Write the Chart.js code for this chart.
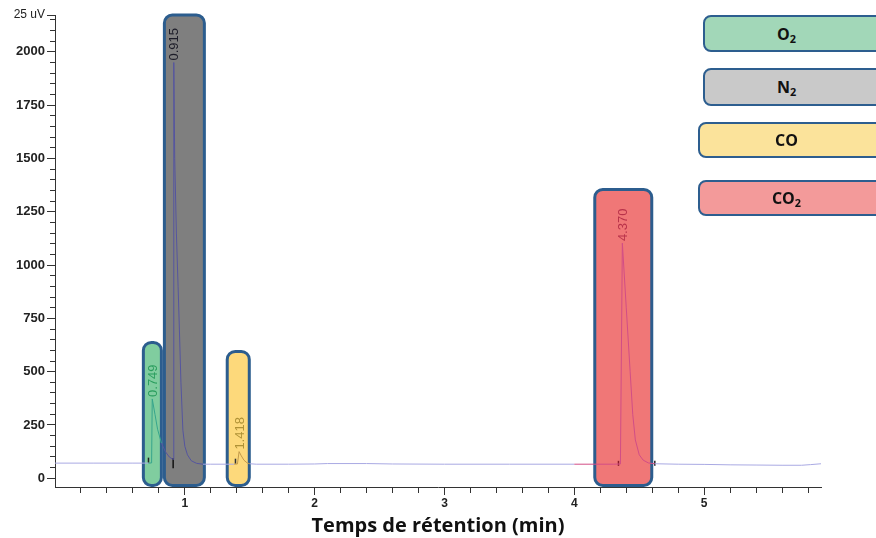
<!DOCTYPE html>
<html>
<head>
<meta charset="utf-8">
<script src="https://cdn.jsdelivr.net/npm/chart.js@4.4.1/dist/chart.umd.min.js"></script>
<style>
html,body{margin:0;padding:0;background:#fff;overflow:hidden;}
#wrap{position:relative;width:876px;height:538px;overflow:hidden;background:#fff;}
#c{position:absolute;left:0;top:0;}
.lg{position:absolute;width:240px;border:2.5px solid #2d5e8f;border-radius:8px;box-sizing:border-box;}
.lg span{position:absolute;top:50%;transform:translate(-50%,-52%);font:bold 16px 'Open Sans',sans-serif;color:#111;white-space:nowrap;}
.lg sub{font-size:0.68em;vertical-align:-0.3em;line-height:0;}
</style>
</head>
<body>
<div id="wrap">
<canvas id="c" width="876" height="538"></canvas>
</div>
<script>
// ---------- data ----------
const gasLabels = ['O2', 'N2', 'CO', 'CO2'];
const peakTimes = [0.749, 0.915, 1.418, 4.370];
const peakHeights = [372, 1950, 125, 1103];

// retention windows highlighted by boxes (data units)
const boxXMin = [0.669, 0.831, 1.315, 4.146];
const boxXMax = [0.831, 1.162, 1.508, 4.608];
const boxYMin = [-41, -41, -41, -41];
const boxYMax = [644, 2180, 602, 1362];

// chromatogram trace
const traceTimes = [0, 0.3, 0.6, 0.72, 0.744, 0.749, 0.77, 0.79, 0.82, 0.85, 0.88, 0.905, 0.912,
  0.915, 0.922, 0.935, 0.948, 0.958, 0.97, 0.985, 1.0, 1.02, 1.05, 1.09, 1.14, 1.2,
  1.38, 1.405, 1.418, 1.435, 1.455, 1.48, 1.5, 1.55, 1.8, 2.0, 2.1, 2.4, 2.6, 3.0, 3.5, 4.0, 4.3,
  4.355, 4.37, 4.40, 4.43, 4.45, 4.47, 4.5, 4.53, 4.57, 4.62, 4.8, 5.0, 5.2, 5.4, 5.6, 5.75, 5.82, 5.9];
const traceSignal = [71, 71, 71, 71, 72, 372, 300, 230, 165, 125, 100, 90, 88,
  1950, 1500, 1150, 900, 700, 450, 225, 150, 110, 82, 70, 66, 66,
  66, 67, 125, 105, 85, 72, 68, 66, 66, 67, 69, 69, 67, 66, 66, 66, 66,
  67, 1103, 800, 500, 300, 180, 110, 85, 72, 68, 66, 65, 63, 62, 61, 61, 64, 68];

// integration markers
const markerTimes = [0.72, 0.91, 1.39, 4.34, 4.62];
const markerSignal = [85, 70, 80, 70, 70];

// axis ticks
const yTickLabels = ['0', '250', '500', '750', '1000', '1250', '1500', '1750', '2000'];
const yUnitLabel = '25 uV';
const xTickLabels = ['1', '2', '3', '4', '5'];
const xTitle = 'Temps de rétention (min)';

// ---------- styles ----------
const boxFill = ['#80cd9f', '#7f7f7f', '#fdd97b', '#f07777'];
const legendFill = ['#a2d7b8', '#c9c9c9', '#fbe39b', '#f39a9a'];
const traceColors = ['#36a58c', '#55559f', '#c49a4a', '#d24d86'];
const labelColors = ['#2a9d5e', '#1c1c28', '#b09236', '#b8324a'];
const baseColor = '#a9a9e3';
const boxBorder = '#2c5d8e';
const Y_MIN = -41, Y_MAX = 2173, X_MIN = 0, X_MAX = 5.9;

// legend boxes (HTML)
const legendPos = [[703, 15, 37], [703, 68, 38], [698, 122, 36], [698, 180, 36]];
const wrap = document.getElementById('wrap');
gasLabels.forEach((g, i) => {
  const d = document.createElement('div');
  d.className = 'lg';
  d.style.left = legendPos[i][0] + 'px';
  d.style.top = legendPos[i][1] + 'px';
  d.style.height = legendPos[i][2] + 'px';
  d.style.background = legendFill[i];
  const s = document.createElement('span');
  s.style.left = (787 - legendPos[i][0] - 2.5) + 'px';
  s.innerHTML = g.replace(/(\d)/g, '<sub>$1</sub>');
  d.appendChild(s);
  wrap.appendChild(d);
});

function boxIndexAt(t) {
  for (let i = 0; i < boxXMin.length; i++) if (t >= boxXMin[i] && t <= boxXMax[i]) return i;
  return -1;
}

const yTickValues = [];
for (let v = 0; v <= 2150; v += 50) yTickValues.push(v);
yTickValues.push(Y_MAX);
const xTickValues = [];
for (let k = 1; k <= 29; k++) xTickValues.push(Math.round(k * 0.2 * 10) / 10);

const isMajorY = v => v === Y_MAX || (v % 250 === 0);
const isMajorX = v => Math.abs(v - Math.round(v)) < 1e-6;

const boxPlugin = {
  id: 'boxes',
  beforeDatasetsDraw(chart) {
    const { ctx, scales: { x, y } } = chart;
    ctx.save();
    for (let i = 0; i < boxXMin.length; i++) {
      const l = x.getPixelForValue(boxXMin[i]), r = x.getPixelForValue(boxXMax[i]);
      const t = y.getPixelForValue(boxYMax[i]), b = y.getPixelForValue(boxYMin[i]);
      ctx.beginPath();
      ctx.roundRect(l + 1.5, t + 1.5, r - l - 3, b - t - 3, 8);
      ctx.fillStyle = boxFill[i];
      ctx.fill();
      ctx.lineWidth = 3;
      ctx.strokeStyle = boxBorder;
      ctx.stroke();
    }
    ctx.restore();
  },
  afterDatasetsDraw(chart) {
    const { ctx, scales: { x, y } } = chart;
    ctx.save();
    ctx.font = '13px "Liberation Sans", Arial, sans-serif';
    ctx.textAlign = 'left';
    ctx.textBaseline = 'middle';
    for (let i = 0; i < peakTimes.length; i++) {
      const px = x.getPixelForValue(peakTimes[i]) + 1;
      const py = y.getPixelForValue(peakHeights[i]) - 2;
      ctx.save();
      ctx.translate(px, py);
      ctx.rotate(-Math.PI / 2);
      ctx.fillStyle = labelColors[i];
      ctx.fillText(peakTimes[i].toFixed(3), 0, 0);
      ctx.restore();
    }
    ctx.restore();
  }
};

new Chart(document.getElementById('c'), {
  type: 'line',
  data: {
    datasets: [
      {
        data: traceTimes.map((t, i) => ({ x: t, y: traceSignal[i] })),
        borderColor: baseColor,
        borderWidth: 1,
        pointRadius: 0,
        tension: 0,
        segment: {
          borderColor: c => {
            const i = boxIndexAt((c.p0.parsed.x + c.p1.parsed.x) / 2);
            return i < 0 ? baseColor : traceColors[i];
          }
        }
      },
      {
        data: markerTimes.map((t, i) => ({ x: t, y: markerSignal[i] })),
        showLine: false,
        pointStyle: 'line',
        rotation: 90,
        radius: [2.5, 5, 2.5, 2.5, 2.5],
        borderColor: ['#222', '#111', '#333', '#8a1a2a', '#222'],
        borderWidth: 1.5
      }
    ]
  },
  options: {
    responsive: false,
    animation: false,
    events: [],
    layout: { padding: { top: 15, right: 55, left: 0, bottom: 0 } },
    plugins: { legend: { display: false }, tooltip: { enabled: false } },
    scales: {
      x: {
        type: 'linear', min: X_MIN, max: X_MAX,
        afterFit: s => { s.height = 51; },
        afterBuildTicks: s => { s.ticks = xTickValues.map(v => ({ value: v })); },
        border: { color: '#333', width: 1 },
        grid: {
          drawOnChartArea: false, drawTicks: true, tickLength: 8, tickColor: '#333', tickWidth: 1,
          tickBorderDash: c => (c.tick && isMajorX(c.tick.value)) ? [] : [5, 20],
          tickBorderDashOffset: 0
        },
        ticks: {
          autoSkip: false, maxRotation: 0, padding: 1, color: '#222',
          font: { family: '"Liberation Sans", Arial, sans-serif', size: 12, weight: 'bold' },
          callback: v => isMajorX(v) ? xTickLabels[Math.round(v) - 1] : ''
        },
        title: {
          display: true, text: xTitle, color: '#111',
          font: { family: '"Open Sans", sans-serif', size: 20, weight: 'bold' },
          padding: { top: 0, bottom: 0 }
        }
      },
      y: {
        min: Y_MIN, max: Y_MAX,
        afterFit: s => { s.width = 55; },
        afterBuildTicks: s => { s.ticks = yTickValues.map(v => ({ value: v })); },
        border: { color: '#333', width: 1 },
        grid: {
          drawOnChartArea: false, drawTicks: true, tickLength: 8, tickColor: '#333', tickWidth: 1,
          tickBorderDash: c => (c.tick && isMajorY(c.tick.value)) ? [] : [5, 3],
          tickBorderDashOffset: c => (c.tick && isMajorY(c.tick.value)) ? 0 : 5
        },
        ticks: {
          autoSkip: false, padding: 2, color: '#222',
          font: c => (c.tick && c.tick.value === Y_MAX)
            ? { family: '"Liberation Sans", Arial, sans-serif', size: 12, weight: 'normal' }
            : { family: '"Liberation Sans", Arial, sans-serif', size: 13, weight: 'bold' },
          callback: v => {
            if (v === Y_MAX) return yUnitLabel;
            if (v % 250 === 0) return yTickLabels[v / 250];
            return '';
          }
        }
      }
    }
  },
  plugins: [boxPlugin]
});
</script>
</body>
</html>
